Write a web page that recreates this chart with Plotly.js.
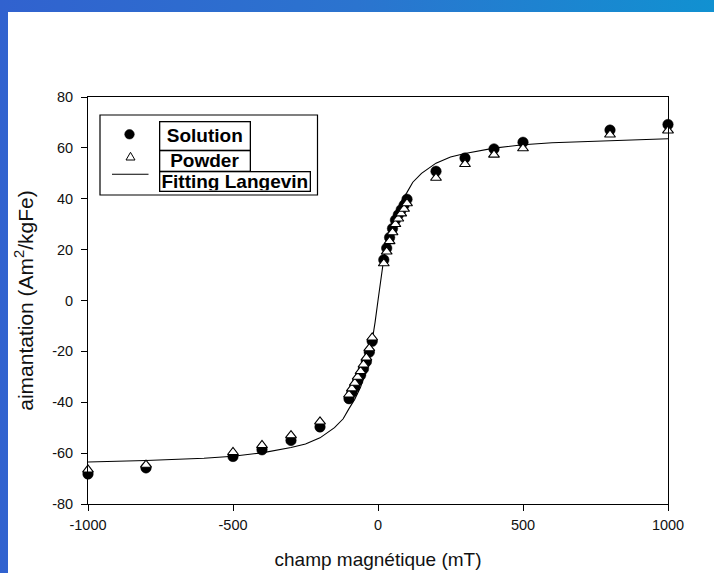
<!DOCTYPE html>
<html>
<head>
<meta charset="utf-8">
<script src="https://cdn.plot.ly/plotly-3.0.1.min.js"></script>
<style>
  html, body { margin:0; padding:0; }
  body { width:714px; height:573px; overflow:hidden;
         background: linear-gradient(90deg, #3162cf 0%, #2b74cf 50%, #1191d1 100%); }
  #chart { width:714px; height:573px; }
</style>
</head>
<body>
<div id="chart"></div>
<script>
// ---- data ----
const fieldSolution = [-1000, -800, -500, -400, -300, -200,
  -100, -90, -80, -70, -60, -50, -40, -30, -20,
  20, 30, 40, 50, 60, 70, 80, 90, 100,
  200, 300, 400, 500, 800, 1000];
const magSolution = [-68.2, -65.8, -61.3, -58.7, -55.0, -49.7,
  -38.6, -36.2, -34.0, -31.6, -29.4, -26.8, -24.0, -20.3, -16.0,
  16.0, 20.6, 24.8, 28.3, 31.6, 33.7, 35.7, 37.5, 39.8,
  50.8, 56.0, 59.6, 62.2, 67.0, 69.2];

const fieldPowder = [-1000, -800, -500, -400, -300, -200,
  -100, -90, -80, -70, -60, -50, -40, -30, -20,
  20, 30, 40, 50, 60, 70, 80, 90, 100,
  200, 300, 400, 500, 800, 1000];
const magPowder = [-66.5, -64.6, -59.6, -56.9, -53.0, -47.6,
  -37.0, -34.6, -32.4, -30.0, -27.8, -25.2, -22.5, -18.8, -14.6,
  14.6, 19.2, 23.3, 26.8, 30.0, 32.2, 34.2, 36.0, 38.2,
  48.2, 53.6, 57.3, 59.8, 65.2, 66.8];

const fieldFit = [-1000, -800, -600, -500, -400, -300, -250, -200, -150, -120,
  -100, -80, -60, -50, -40, -30, -20, -10, 0, 10, 20, 30, 40, 50, 60, 80,
  100, 120, 150, 200, 250, 300, 400, 500, 600, 800, 1000];
const magFit = [-63.5, -62.9, -62.0, -61.2, -59.9, -57.8, -56.4, -54.0, -50.0, -46.5,
  -42.5, -38.8, -34.0, -31.0, -27.5, -23.0, -16.5, -8.5, 0, 8.5, 16.5, 23.0, 27.5, 31.0, 34.0, 38.8,
  42.5, 46.5, 50.0, 54.0, 56.4, 57.8, 59.9, 61.2, 62.0, 62.9, 63.6];

const seriesNames = ["Solution", "Powder", "Fitting Langevin"];
const xTicks = [-1000, -500, 0, 500, 1000];
const yTicks = [-80, -60, -40, -20, 0, 20, 40, 60, 80];
const xTitle = "champ magnétique (mT)";
const yTitle = "aimantation (Am<sup>2</sup>/kgFe)";

// ---- geometry helpers (layout only) ----
const L = 88, T = 97, W = 580, H = 407;
const px = v => (v - L) / W;
const py = v => (T + H - v) / H;

const traces = [
  { x: fieldFit, y: magFit, name: seriesNames[2], type: "scatter", mode: "lines",
    line: { color: "#000", width: 1.1 }, hoverinfo: "x+y" },
  { x: fieldSolution, y: magSolution, name: seriesNames[0], type: "scatter", mode: "markers",
    cliponaxis: false,
    marker: { symbol: "circle", size: 10.5, color: "#000", line: { color: "#000", width: 0.5 } } },
  { x: fieldPowder, y: magPowder, name: seriesNames[1], type: "scatter", mode: "markers",
    cliponaxis: false,
    marker: { symbol: "triangle-up", size: 9.5, color: "#fff", line: { color: "#000", width: 1.1 } } }
];

const axisCommon = {
  showgrid: false, zeroline: false, showline: true, linecolor: "#000", linewidth: 1,
  mirror: true, ticks: "outside", ticklen: 6, tickwidth: 1, tickcolor: "#000",
  tickfont: { family: "Liberation Sans, Arial, sans-serif", size: 14.5, color: "#111" }
};

const legendFont = { family: "Liberation Sans, Arial, sans-serif", size: 19, color: "#000" };

const layout = {
  width: 714, height: 573,
  margin: { l: L, r: 714 - L - W, t: T, b: 573 - T - H, pad: 0 },
  paper_bgcolor: "rgba(0,0,0,0)", plot_bgcolor: "#fff",
  showlegend: false,
  xaxis: Object.assign({}, axisCommon, {
    range: [-1000, 1000], tickvals: xTicks, ticktext: xTicks.map(String),
    ticklabelstandoff: 2,
    title: { text: xTitle, standoff: 20,
      font: { family: "Liberation Sans, Arial, sans-serif", size: 19, color: "#111" } }
  }),
  yaxis: Object.assign({}, axisCommon, {
    range: [-80, 80], tickvals: yTicks, ticktext: yTicks.map(String),
    ticklabelstandoff: 5,
    title: { text: yTitle, standoff: 12,
      font: { family: "Liberation Sans, Arial, sans-serif", size: 21, color: "#111" } }
  }),
  shapes: [
    // white page over the blue frame
    { type: "rect", xref: "paper", yref: "paper", layer: "below",
      x0: px(8), x1: px(714), y0: py(573), y1: py(12),
      fillcolor: "#fff", line: { width: 0 } },
    // legend frame
    { type: "rect", xref: "paper", yref: "paper",
      x0: px(100), x1: px(317.5), y0: py(195), y1: py(115),
      fillcolor: "#fff", line: { color: "#000", width: 1.2 } },
    // legend symbols
    { type: "circle", xref: "paper", yref: "paper", xsizemode: "pixel", ysizemode: "pixel",
      xanchor: px(129.5), yanchor: py(134.3), x0: -4.8, x1: 4.8, y0: -4.8, y1: 4.8,
      fillcolor: "#000", line: { color: "#000", width: 0.5 } },
    { type: "path", xref: "paper", yref: "paper", xsizemode: "pixel", ysizemode: "pixel",
      xanchor: px(130.5), yanchor: py(156.5), path: "M -4.5 -3.5 L 4.5 -3.5 L 0 4.2 Z",
      fillcolor: "#fff", line: { color: "#000", width: 1 } },
    { type: "line", xref: "paper", yref: "paper",
      x0: px(112), x1: px(148.5), y0: py(174.3), y1: py(174.3),
      line: { color: "#000", width: 1.1 } }
  ],
  annotations: [
    { text: "<b>" + seriesNames[0] + "</b>", xref: "paper", yref: "paper",
      x: px(159), y: py(120.7), xanchor: "left", yanchor: "top", showarrow: false,
      width: 89, height: 27, align: "center", valign: "middle",
      bordercolor: "#000", borderwidth: 1.3, borderpad: 0, font: legendFont },
    { text: "<b>" + seriesNames[1] + "</b>", xref: "paper", yref: "paper",
      x: px(159), y: py(150), xanchor: "left", yanchor: "top", showarrow: false,
      width: 89, height: 19, align: "center", valign: "middle",
      bordercolor: "#000", borderwidth: 1.3, borderpad: 0, font: legendFont },
    { text: "<b>" + seriesNames[2] + "</b>", xref: "paper", yref: "paper",
      x: px(159), y: py(171), xanchor: "left", yanchor: "top", showarrow: false,
      width: 149, height: 18, align: "center", valign: "middle",
      bordercolor: "#000", borderwidth: 1.3, borderpad: 0, font: legendFont }
  ]
};

Plotly.newPlot("chart", traces, layout, { displayModeBar: false, responsive: false });
</script>
</body>
</html>
